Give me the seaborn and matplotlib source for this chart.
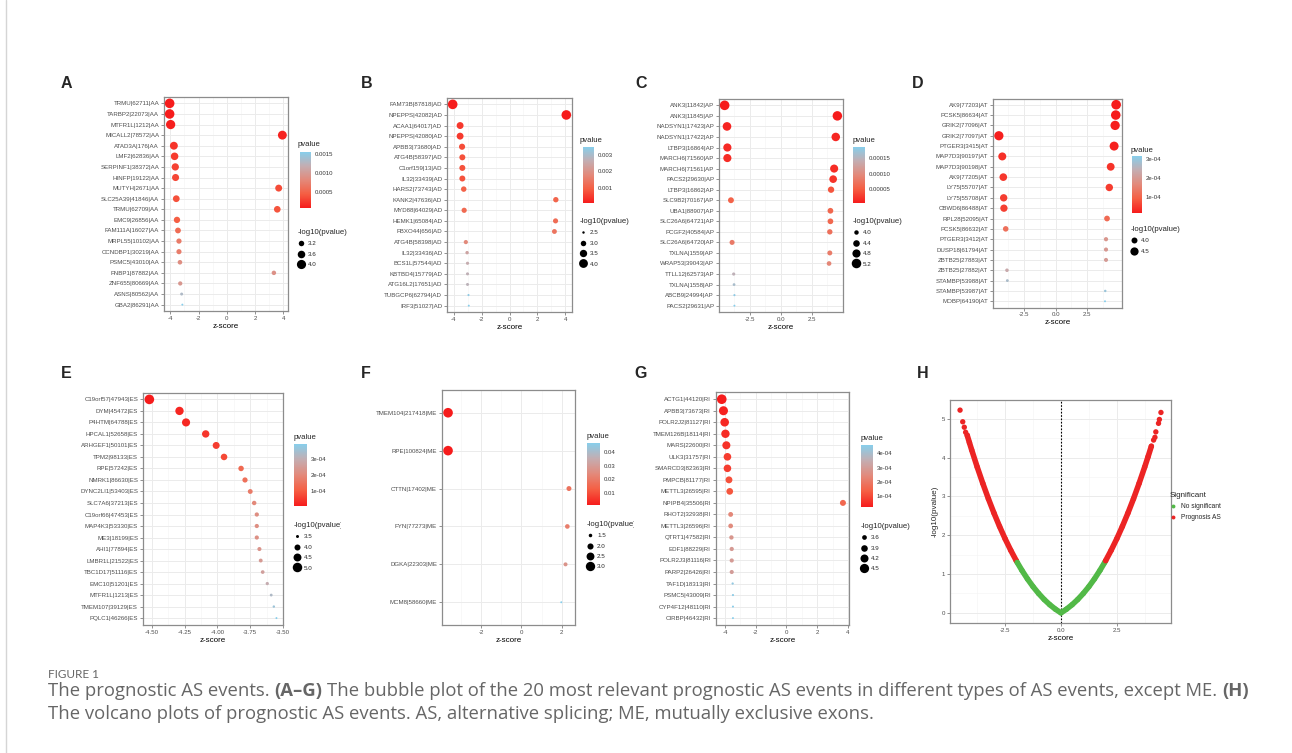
import numpy as np
import pandas as pd
import matplotlib
matplotlib.use("Agg")
import matplotlib.pyplot as plt
import seaborn as sns
from matplotlib.colors import LinearSegmentedColormap, Normalize
from matplotlib.cm import ScalarMappable
from matplotlib.lines import Line2D
from matplotlib.transforms import Bbox, TransformedBbox

# ---------------- data ----------------
a_events = ["TRMU|62711|AA", "TARBP2|22073|AA", "MTFR1L|1212|AA", "MICALL2|78572|AA", "ATAD3A|176|AA",
            "LMF2|62836|AA", "SERPINF1|38372|AA", "HINFP|19122|AA", "MUTYH|2671|AA", "SLC25A39|41846|AA",
            "TRMU|62709|AA", "EMC9|26856|AA", "FAM111A|16027|AA", "MRPL55|10102|AA", "CCNDBP1|30219|AA",
            "PSMC5|43010|AA", "FNBP1|87882|AA", "ZNF655|80669|AA", "ASNS|80562|AA", "GBA2|86291|AA"]
a_z = [-4.05, -4.05, -3.98, 3.93, -3.75, -3.70, -3.65, -3.63, 3.67, -3.58,
       3.57, -3.53, -3.46, -3.39, -3.39, -3.32, 3.33, -3.30, -3.20, -3.15]
a_p = [7.5e-5, 7.8e-5, 9.5e-5, 1.2e-4, 2.1e-4, 2.5e-4, 2.9e-4, 3.2e-4, 3.4e-4, 3.7e-4,
       3.9e-4, 4.5e-4, 5.6e-4, 6.9e-4, 7.1e-4, 8.6e-4, 8.9e-4, 9.5e-4, 1.30e-3, 1.54e-3]

b_events = ["FAM73B|87818|AD", "NPEPPS|42082|AD", "ACAA1|64017|AD", "NPEPPS|42080|AD", "APBB3|73680|AD",
            "ATG4B|58397|AD", "C1orf159|13|AD", "IL32|33439|AD", "HARS2|73743|AD", "KANK2|47636|AD",
            "MYD88|64029|AD", "HEMK1|65084|AD", "FBXO44|656|AD", "ATG4B|58398|AD", "IL32|33436|AD",
            "BCS1L|57544|AD", "KBTBD4|15779|AD", "ATG16L2|17651|AD", "TUBGCP6|62794|AD", "IRF3|51027|AD"]
b_z = [-4.06, 4.06, -3.53, -3.53, -3.39, -3.37, -3.37, -3.37, -3.27, 3.31,
       -3.24, 3.29, 3.21, -3.12, -3.03, -3.00, -3.00, -3.00, -2.93, -2.91]
b_p = [4.9e-5, 5.0e-5, 4.2e-4, 4.3e-4, 6.9e-4, 7.4e-4, 7.5e-4, 7.6e-4, 1.0e-3, 1.05e-3,
       1.15e-3, 1.2e-3, 1.35e-3, 1.8e-3, 2.4e-3, 2.6e-3, 2.7e-3, 2.75e-3, 3.4e-3, 3.5e-3]

c_events = ["ANK3|11842|AP", "ANK3|11845|AP", "NADSYN1|17423|AP", "NADSYN1|17422|AP", "LTBP3|16864|AP",
            "MARCH6|71560|AP", "MARCH6|71561|AP", "PACS2|29630|AP", "LTBP3|16862|AP", "SLC9B2|70167|AP",
            "UBA1|88907|AP", "SLC26A6|64721|AP", "PCGF2|40584|AP", "SLC26A6|64720|AP", "TXLNA|1559|AP",
            "WRAP53|39043|AP", "TTLL12|62573|AP", "TXLNA|1558|AP", "ABCB9|24994|AP", "PACS2|29631|AP"]
c_z = [-4.53, 4.57, -4.34, 4.44, -4.31, -4.31, 4.31, 4.23, 4.06, -4.02,
       4.01, 4.01, 3.96, -3.93, 3.96, 3.90, -3.80, -3.77, -3.74, -3.74]
c_p = [5.9e-6, 6.5e-6, 1.2e-5, 1.3e-5, 1.6e-5, 1.65e-5, 1.7e-5, 2.2e-5, 4.5e-5, 5.6e-5,
       6.0e-5, 6.1e-5, 7.0e-5, 8.0e-5, 8.2e-5, 9.3e-5, 1.45e-4, 1.6e-4, 1.8e-4, 1.85e-4]

d_events = ["AK9|77203|AT", "PCSK5|86634|AT", "GRIK2|77096|AT", "GRIK2|77097|AT", "PTGER3|3415|AT",
            "MAP7D3|90197|AT", "MAP7D3|90198|AT", "AK9|77205|AT", "LY75|55707|AT", "LY75|55708|AT",
            "CBWD6|86488|AT", "RPL28|52095|AT", "PCSK5|86632|AT", "PTGER3|3412|AT", "DUSP18|61794|AT",
            "ZBTB25|27883|AT", "ZBTB25|27882|AT", "STAMBP|53988|AT", "STAMBP|53987|AT", "MOBP|64190|AT"]
d_z = [4.78, 4.75, 4.70, -4.48, 4.62, -4.21, 4.35, -4.13, 4.24, -4.10,
       -4.08, 4.06, -3.94, 3.98, 3.98, 3.98, -3.84, -3.81, 3.92, 3.90]
d_p = [1.3e-5, 1.4e-5, 1.6e-5, 1.7e-5, 2.0e-5, 3.6e-5, 4.0e-5, 4.4e-5, 5.0e-5, 5.1e-5,
       5.3e-5, 1.1e-4, 1.2e-4, 1.9e-4, 1.95e-4, 2.0e-4, 2.3e-4, 2.7e-4, 2.9e-4, 3.14e-4]

e_events = ["C19orf57|47943|ES", "DYM|45472|ES", "P4HTM|64788|ES", "HPCAL1|52658|ES", "ARHGEF1|50101|ES",
            "TPM2|98133|ES", "RPE|57242|ES", "NMRK1|86630|ES", "DYNC2LI1|53403|ES", "SLC7A6|37213|ES",
            "C19orf66|47453|ES", "MAP4K3|53330|ES", "ME3|18199|ES", "AHI1|77894|ES", "LMBR1L|21522|ES",
            "TBC1D17|51116|ES", "EMC10|51201|ES", "MTFR1L|1213|ES", "TMEM107|39129|ES", "PQLC1|46266|ES"]
e_z = [-4.52, -4.29, -4.24, -4.09, -4.01, -3.95, -3.82, -3.79, -3.75, -3.72,
       -3.70, -3.70, -3.70, -3.68, -3.67, -3.655, -3.62, -3.59, -3.57, -3.55]
e_p = [9.0e-6, 2.4e-5, 2.8e-5, 4.5e-5, 5.8e-5, 7.5e-5, 1.3e-4, 1.45e-4, 1.7e-4, 2.0e-4,
       2.15e-4, 2.17e-4, 2.2e-4, 2.3e-4, 2.45e-4, 2.6e-4, 2.95e-4, 3.3e-4, 3.6e-4, 3.93e-4]

f_events = ["TMEM104|217418|ME", "RPE|100824|ME", "CTTN|17402|ME", "FYN|77273|ME", "DGKA|22303|ME",
            "MCM8|58660|ME"]
f_z = [-3.63, -3.63, 2.36, 2.28, 2.19, 1.98]
f_p = [7.8e-4, 8.0e-4, 0.018, 0.021, 0.027, 0.047]

g_events = ["ACTG1|44120|RI", "APBB3|73673|RI", "POLR2J2|81127|RI", "TMEM126B|18114|RI", "MARS|22600|RI",
            "ULK3|31757|RI", "SMARCD3|82363|RI", "PMPCB|81177|RI", "METTL3|26595|RI", "NPIPB4|35506|RI",
            "RHOT2|32938|RI", "METTL3|26596|RI", "QTRT1|47582|RI", "EDF1|88229|RI", "POLR2J3|81116|RI",
            "PARP2|26426|RI", "TAF1D|18313|RI", "PSMC5|43009|RI", "CYP4F12|48110|RI", "CIRBP|46432|RI"]
g_z = [-4.22, -4.11, -4.03, -3.98, -3.92, -3.85, -3.85, -3.75, -3.70, 3.68,
       -3.64, -3.64, -3.59, -3.57, -3.57, -3.57, -3.51, -3.49, -3.49, -3.49]
g_p = [2.5e-5, 3.6e-5, 4.6e-5, 5.2e-5, 6.2e-5, 7.8e-5, 8.0e-5, 1.1e-4, 1.2e-4, 1.6e-4,
       2.4e-4, 2.5e-4, 2.8e-4, 2.9e-4, 2.95e-4, 3.0e-4, 4.4e-4, 4.5e-4, 4.55e-4, 4.59e-4]

# volcano (H)
h_curve_z = [-4.2, -4.1, -4.0, -3.75, -3.5, -3.25, -3.0, -2.75, -2.5, -2.25, -2.0,
             -1.96, -1.75, -1.5, -1.25, -1.0, -0.75, -0.5, -0.25, 0.0, 0.25, 0.5, 0.75, 1.0,
             1.25, 1.5, 1.75, 1.96,
             2.0, 2.25, 2.5, 2.75, 3.0, 3.25, 3.5, 3.75, 3.9, 4.05]
h_curve_nlp = [4.574, 4.384, 4.198, 3.753, 3.333, 2.938, 2.569, 2.225, 1.906, 1.612, 1.342,
               1.30, 1.096, 0.874, 0.675, 0.499, 0.344, 0.210, 0.096, 0.0, 0.096, 0.210, 0.344, 0.499,
               0.675, 0.874, 1.096, 1.30,
               1.342, 1.612, 1.906, 2.225, 2.569, 2.938, 3.333, 3.753, 4.017, 4.29]
h_tail_z = [-4.52, -4.40, -4.33, -4.27, 4.15, 4.21, 4.25, 4.37, 4.41, 4.48]
h_tail_nlp = [5.22, 4.92, 4.78, 4.65, 4.45, 4.52, 4.66, 4.88, 4.98, 5.16]

caption_head = "FIGURE 1"
caption_parts = [("The prognostic AS events.", "normal"), ("(A\u2013G)", "bold"),
                 ("The bubble plot of the 20 most relevant prognostic AS events in different types of AS events, except ME.", "normal"),
                 ("(H)", "bold")]
caption_line2 = "The volcano plots of prognostic AS events. AS, alternative splicing; ME, mutually exclusive exons."

# ---------------- setup ----------------
W, H = 1292, 753
sns.set_style("white")
plt.rcParams["font.family"] = ["Liberation Sans", "DejaVu Sans"]
plt.rcParams["axes.unicode_minus"] = False

fig = plt.figure(figsize=(W / 100, H / 100), dpi=100)
fig.patch.set_facecolor("white")
bgax = fig.add_axes([0, 0, 1, 1], zorder=-10)
bgax.axis("off")

cmap = LinearSegmentedColormap.from_list(
    "pv", ["#F61C1C", "#F55E43", "#E3897A", "#C4ADB1", "#87CEEB"])
SMIN, SMAX = 2.0, 48.0
TICKC = "#4D4D4D"


def fx(x):
    return x / W


def fy(y):
    return 1 - y / H


def rect(l, t, r, b):
    return [l / W, 1 - b / H, (r - l) / W, (b - t) / H]


def style_axes(ax, xt, xtl, xminor):
    ax.set_facecolor("white")
    ax.set_xticks(xt)
    ax.set_xticklabels(xtl)
    ax.set_xticks(xminor, minor=True)
    ax.grid(True, which="major", color="#EBEBEB", lw=0.7)
    ax.grid(True, which="minor", axis="x", color="#F4F4F4", lw=0.45)
    ax.set_axisbelow(True)
    for s in ax.spines.values():
        s.set_color("#8C8C8C")
        s.set_linewidth(0.9)
        s.set_visible(True)
    ax.tick_params(which="major", bottom=True, left=True, length=2, width=0.5, color="#666666",
                   labelsize=4.4, labelcolor=TICKC, pad=1.5)
    ax.tick_params(which="minor", length=0)
    ax.set_xlabel("z-score", fontsize=5.8, labelpad=1.5, color="black")
    ax.set_ylabel("")


def bubble_panel(label, label_xy, ax_px, cb_px, cb_title_xy, leg_xy, events, z, p,
                 xt, xtl, xminor, cbt, cbtl, sbreaks, clip_x=None):
    ax = fig.add_axes(rect(*ax_px))
    df = pd.DataFrame({"event": events, "z": z, "p": p})
    df["nlp"] = -np.log10(df["p"])
    pn = (df["p"].min(), df["p"].max())
    sn = (df["nlp"].min(), df["nlp"].max())
    sns.scatterplot(data=df, x="z", y="event", hue="p", hue_norm=pn, palette=cmap,
                    size="nlp", size_norm=sn, sizes=(SMIN, SMAX), linewidth=0,
                    legend=False, ax=ax, zorder=3)
    n = len(events)
    ax.set_ylim(n - 0.4, -0.6)
    style_axes(ax, xt, xtl, xminor)

    # colorbar
    cax = fig.add_axes(rect(*cb_px))
    cb = fig.colorbar(ScalarMappable(norm=Normalize(*pn), cmap=cmap), cax=cax)
    cb.outline.set_visible(False)
    cb.set_ticks(cbt)
    cb.set_ticklabels(cbtl)
    cax.minorticks_off()
    cax.tick_params(axis="y", which="major", direction="in", length=2, width=0.6, color="white",
                    left=True, right=True, labelleft=False, labelright=True,
                    labelsize=4.3, labelcolor="#333333", pad=2.5)
    fig.text(fx(cb_title_xy[0]), fy(cb_title_xy[1]), "pvalue", fontsize=5.6, va="center", ha="left")

    # size legend
    lo, hi = sn
    handles = [Line2D([], [], ls="", marker="o", color="black", markeredgewidth=0,
                      markersize=np.sqrt(SMIN + (SMAX - SMIN) * (b - lo) / (hi - lo))) for b in sbreaks]
    leg = fig.legend(handles, [f"{b:.1f}" for b in sbreaks], title="-log10(pvalue)",
                     loc="upper left", bbox_to_anchor=(fx(leg_xy[0]), fy(leg_xy[1])),
                     frameon=False, fontsize=4.5, title_fontsize=5.6, labelspacing=0.8,
                     handlelength=1.0, handletextpad=0.6, borderpad=0, borderaxespad=0,
                     alignment="left")
    if clip_x is not None:
        tt = leg.get_title()
        tt.set_clip_on(True)
        tt.set_clip_box(TransformedBbox(Bbox([[0, 0], [fx(clip_x), 1]]), fig.transFigure))
    fig.text(fx(label_xy[0]), fy(label_xy[1]), label, fontsize=11.5, fontweight="bold",
             ha="center", va="center")
    return ax


X4 = [-4, -2, 0, 2, 4]
X4L = ["-4", "-2", "0", "2", "4"]
X4M = [-3, -1, 1, 3]
X25 = [-2.5, 0, 2.5]
X25L = ["-2.5", "0.0", "2.5"]
X25M = [-3.75, -1.25, 1.25, 3.75]

bubble_panel("A", (66, 84), (164, 97, 288, 311), (300, 152, 311, 208), (298, 145), (298, 229),
             a_events, a_z, a_p, X4, X4L, X4M,
             [0.0005, 0.0010, 0.0015], ["0.0005", "0.0010", "0.0015"], [3.2, 3.6, 4.0])
bubble_panel("B", (367, 84), (447, 98, 572, 312), (583, 147, 594, 203), (580, 140), (580, 218),
             b_events, b_z, b_p, X4, X4L, X4M,
             [0.001, 0.002, 0.003], ["0.001", "0.002", "0.003"], [2.5, 3.0, 3.5, 4.0])
bubble_panel("C", (641, 84), (719, 99, 843, 312), (853, 147, 865, 203), (853, 140), (853, 218),
             c_events, c_z, c_p, X25, X25L, X25M,
             [0.00005, 0.00010, 0.00015], ["0.00005", "0.00010", "0.00015"], [4.0, 4.4, 4.8, 5.2])
bubble_panel("D", (918, 84), (993, 98.5, 1122, 307.5), (1132, 156, 1142, 213), (1131, 150), (1131, 226),
             d_events, d_z, d_p, X25, X25L, X25M,
             [1e-4, 2e-4, 3e-4], ["1e-04", "2e-04", "3e-04"], [4.0, 4.5])
bubble_panel("E", (66, 373), (143, 392.5, 283, 625), (294, 444, 307, 506), (294, 437), (294, 522),
             e_events, e_z, e_p, [-4.5, -4.25, -4.0, -3.75, -3.5],
             ["-4.50", "-4.25", "-4.00", "-3.75", "-3.50"], [-4.375, -4.125, -3.875, -3.625],
             [1e-4, 2e-4, 3e-4], ["1e-04", "2e-04", "3e-04"], [3.5, 4.0, 4.5, 5.0], clip_x=341)
bubble_panel("F", (366, 373), (442, 390, 575, 625), (587, 443, 600, 505), (587, 436), (587, 521),
             f_events, f_z, f_p, [-2, 0, 2], ["-2", "0", "2"], [-3, -1, 1],
             [0.01, 0.02, 0.03, 0.04], ["0.01", "0.02", "0.03", "0.04"], [1.5, 2.0, 2.5, 3.0], clip_x=634)
bubble_panel("G", (641, 373), (715.7, 392.3, 849, 625), (861, 445, 873, 507), (861, 438), (861, 523),
             g_events, g_z, g_p, X4, X4L, X4M,
             [1e-4, 2e-4, 3e-4, 4e-4], ["1e-04", "2e-04", "3e-04", "4e-04"], [3.6, 3.9, 4.2, 4.5])

# ---------------- H: volcano ----------------
pal = {"No significant": "#52B947", "Prognosis AS": "#EC2424"}
thr = -np.log10(0.05)
curve = pd.DataFrame({"z": h_curve_z, "nlp": h_curve_nlp})
curve["Significant"] = np.where(curve["nlp"] > thr, "Prognosis AS", "No significant")
curve["seg"] = np.where(curve["Significant"] == "No significant", "G",
                        np.where(curve["z"] < 0, "RL", "RR"))
tail = pd.DataFrame({"z": h_tail_z, "nlp": h_tail_nlp})
tail["Significant"] = np.where(tail["nlp"] > thr, "Prognosis AS", "No significant")
allpts = pd.concat([curve[["z", "nlp", "Significant"]], tail], ignore_index=True)

axh = fig.add_axes(rect(950, 400, 1171, 623))
sns.lineplot(data=curve, x="z", y="nlp", hue="Significant", units="seg", estimator=None,
             palette=pal, linewidth=4.0, legend=False, ax=axh, sort=True,
             solid_capstyle="round", solid_joinstyle="round", zorder=3)
sns.scatterplot(data=allpts, x="z", y="nlp", hue="Significant", palette=pal, s=15,
                linewidth=0, legend=False, ax=axh, zorder=4)
axh.axvline(0, color="black", ls=(0, (1.5, 1.5)), lw=0.8, zorder=2)
style_axes(axh, X25, X25L, X25M)
axh.set_yticks([0, 1, 2, 3, 4, 5])
axh.set_yticklabels(["0", "1", "2", "3", "4", "5"])
axh.set_yticks([0.5, 1.5, 2.5, 3.5, 4.5], minor=True)
axh.grid(True, which="minor", axis="y", color="#F4F4F4", lw=0.45)
axh.tick_params(which="minor", length=0)
axh.set_ylabel("-log10(pvalue)", fontsize=5.8, labelpad=2)
hh = [Line2D([], [], ls="", marker="o", color=pal[k], markeredgewidth=0, markersize=2.8) for k in pal]
fig.legend(hh, list(pal.keys()), title="Significant", loc="upper left",
           bbox_to_anchor=(fx(1170), fy(492)), frameon=False, fontsize=4.8, title_fontsize=5.8,
           labelspacing=0.6, handlelength=1.0, handletextpad=0.6, borderpad=0, borderaxespad=0,
           alignment="left")
fig.text(fx(923), fy(373), "H", fontsize=11.5, fontweight="bold", ha="center", va="center")

# ---------------- caption & frame ----------------
fig.add_artist(Line2D([fx(5.5), fx(5.5)], [0, 1], color="#D5D5D5", lw=1.0, transform=fig.transFigure))
CAPF = "Open Sans"
CAPC = "#666666"
CAPS = 13.3
fig.text(fx(48), fy(675), caption_head, fontsize=8.5, color=CAPC, family="Lato", va="center")
prev = fig.text(fx(48), fy(691), caption_parts[0][0], fontsize=CAPS, color=CAPC, family=CAPF,
                fontweight=caption_parts[0][1], va="center")
for txt, wt in caption_parts[1:]:
    prev = bgax.annotate(txt, xy=(1, 0), xycoords=prev, xytext=(3.4, 0), textcoords="offset points",
                         ha="left", va="bottom", fontsize=CAPS, color=CAPC, family=CAPF, fontweight=wt)
fig.text(fx(48), fy(714), caption_line2, fontsize=CAPS, color=CAPC, family=CAPF, va="center")

fig.savefig("out.png", dpi=100, facecolor="white")
